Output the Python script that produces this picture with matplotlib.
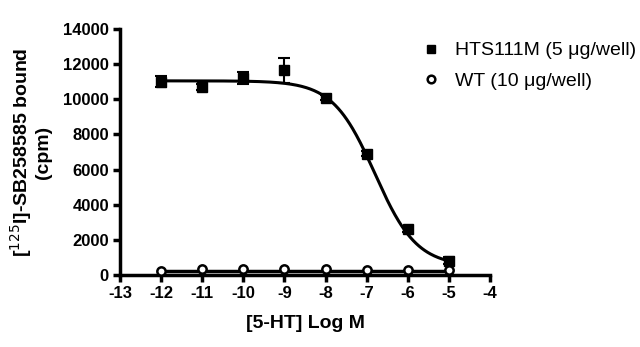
import numpy as np
import matplotlib
matplotlib.use("Agg")
import matplotlib.pyplot as plt
from matplotlib.lines import Line2D

plt.rcParams['font.family'] = ['Liberation Sans', 'DejaVu Sans']

# data
log_conc = [-12, -11, -10, -9, -8, -7, -6, -5]
hts_vals = [11000, 10700, 11200, 11650, 10100, 6900, 2600, 800]
hts_err = [300, 150, 350, 700, 150, 150, 150, 200]
wt_vals = [250, 320, 330, 330, 320, 300, 300, 300]
wt_err = [80, 100, 100, 100, 100, 100, 100, 100]

# fitted model parameters (sigmoidal dose-response)
hts_top, hts_bottom, hts_logic50, hts_hill = 11050, 500, -6.8, 0.85
wt_level = 230

xticks = [-13, -12, -11, -10, -9, -8, -7, -6, -5, -4]
yticks = [0, 2000, 4000, 6000, 8000, 10000, 12000, 14000]
labels_legend = ['HTS111M (5 \u03bcg/well)', 'WT (10 \u03bcg/well)']

fig = plt.figure(figsize=(6.4, 3.47), dpi=100)
ax = fig.add_axes([0.1875, 0.2075, 0.578, 0.7089])

xf = np.linspace(-12, -5, 300)
yf = hts_bottom + (hts_top - hts_bottom) / (1 + 10 ** ((xf - hts_logic50) * hts_hill))
ax.plot(xf, yf, color='black', lw=2.2, zorder=2)
ax.plot([-12, -5], [wt_level, wt_level], color='black', lw=2.5, zorder=2)

ax.errorbar(log_conc, hts_vals, yerr=hts_err, fmt='s', color='black', ms=7,
            capsize=4, elinewidth=1.5, capthick=1.5, zorder=3)
ax.errorbar(log_conc, wt_vals, yerr=wt_err, fmt='o', mfc='white', mec='black',
            mew=1.8, ms=6, color='black', capsize=0, elinewidth=1.5, zorder=4)

ax.set_xlim(-13, -4)
ax.set_ylim(0, 14000)
ax.set_xticks(xticks)
ax.set_yticks(yticks)
ax.set_xticklabels([str(t) for t in xticks])
ax.set_yticklabels([str(t) for t in yticks])
for lab in ax.get_xticklabels() + ax.get_yticklabels():
    lab.set_fontweight('bold')
    lab.set_fontsize(12)
for s in ['top', 'right']:
    ax.spines[s].set_visible(False)
for s in ['left', 'bottom']:
    ax.spines[s].set_linewidth(2.5)
ax.tick_params(direction='out', length=5, width=2.5, pad=3)

ax.set_xlabel('[5-HT] Log M', fontsize=14, fontweight='bold', labelpad=10)
ax.set_ylabel('[$^{125}$I]-SB258585 bound\n(cpm)', fontsize=14, fontweight='bold',
              labelpad=8, linespacing=1.05)

handles = [Line2D([], [], marker='s', ls='none', color='black', ms=6),
           Line2D([], [], marker='o', ls='none', mfc='white', mec='black', mew=1.8, ms=5.5)]
leg = fig.legend(handles, labels_legend, loc='upper left', bbox_to_anchor=(0.632, 0.93),
                 frameon=False, fontsize=14, handlelength=0.9, handletextpad=0.8,
                 labelspacing=0.65)
fig.savefig('out.png', dpi=100)
